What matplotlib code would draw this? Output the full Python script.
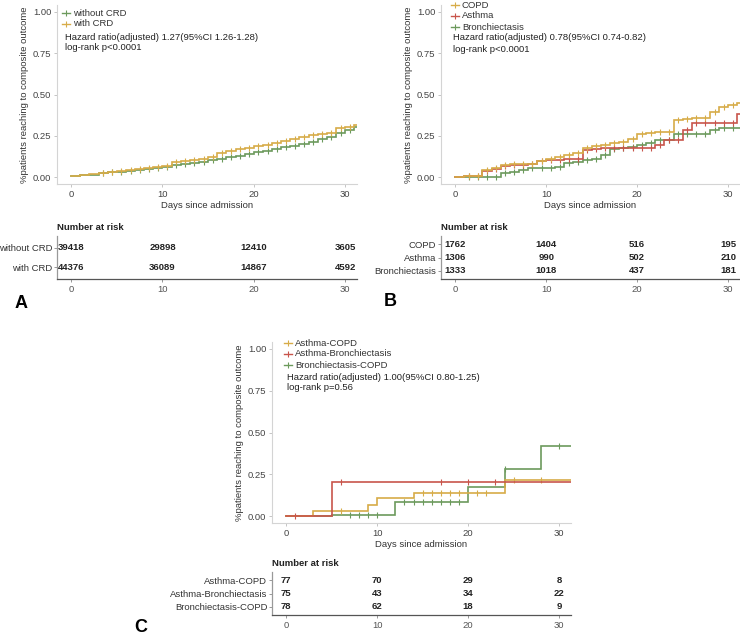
import numpy as np
import matplotlib
matplotlib.use("Agg")
import matplotlib.pyplot as plt
from matplotlib.lines import Line2D

plt.rcParams['font.family'] = ['Liberation Sans', 'DejaVu Sans']

GOLD = '#D7AC48'
RED = '#C8554B'
GREEN = '#6C9A5C'

# ---- panel A data ----
days_A = list(range(0, 32))
a_without = [0.010, 0.012, 0.017, 0.025, 0.030, 0.035, 0.040, 0.045, 0.050, 0.056, 0.063,
             0.072, 0.079, 0.086, 0.094, 0.102, 0.112, 0.121, 0.131, 0.141, 0.151, 0.161,
             0.171, 0.181, 0.192, 0.204, 0.216, 0.229, 0.245, 0.265, 0.285, 0.305]
a_with = [0.010, 0.013, 0.018, 0.027, 0.032, 0.037, 0.043, 0.050, 0.055, 0.061, 0.068,
          0.090, 0.097, 0.105, 0.113, 0.125, 0.150, 0.160, 0.170, 0.178, 0.188, 0.198,
          0.208, 0.218, 0.233, 0.243, 0.255, 0.262, 0.270, 0.300, 0.305, 0.315]
cens_A = [3.5, 4.5, 5.5, 6.5, 7.5, 8.5, 9.5, 10.5, 11.5, 12.5, 13.5, 14.5, 15.5, 16.5,
          17.5, 18.5, 19.5, 20.5, 21.5, 22.5, 23.5, 24.5, 25.5, 26.5, 27.5, 28.5, 29.5, 30.5]
groups_A = ['without CRD', 'with CRD']
risk_A = [[39418, 29898, 12410, 3605], [44376, 36089, 14867, 4592]]

# ---- panel B data ----
days_B = list(range(0, 32))
b_copd = [0, 0.010, 0.010, 0.044, 0.054, 0.074, 0.078, 0.080, 0.080, 0.100, 0.113, 0.120,
          0.135, 0.145, 0.180, 0.190, 0.195, 0.205, 0.215, 0.230, 0.260, 0.270, 0.275,
          0.275, 0.345, 0.350, 0.356, 0.360, 0.396, 0.426, 0.437, 0.447]
b_asthma = [0, 0.008, 0.008, 0.038, 0.048, 0.068, 0.074, 0.076, 0.080, 0.100, 0.105, 0.105,
            0.110, 0.110, 0.165, 0.170, 0.175, 0.175, 0.175, 0.175, 0.175, 0.175, 0.195,
            0.225, 0.225, 0.285, 0.326, 0.330, 0.330, 0.330, 0.330, 0.380]
b_bronch = [0, 0, 0, 0, 0, 0.024, 0.034, 0.044, 0.054, 0.058, 0.058, 0.064, 0.085, 0.090,
            0.105, 0.110, 0.135, 0.170, 0.175, 0.185, 0.195, 0.210, 0.225, 0.225, 0.260,
            0.260, 0.260, 0.260, 0.285, 0.296, 0.296, 0.296]
cens_B = [1.5, 2.5, 3.5, 4.5, 5.5, 6.5, 7.5, 8.5, 9.5, 10.5, 11.5, 12.5, 13.5, 14.5, 15.5,
          16.5, 17.5, 18.5, 19.5, 20.5, 21.5, 22.5, 23.5, 24.5, 25.5, 26.5, 27.5, 28.5,
          29.5, 30.5]
groups_B = ['COPD', 'Asthma', 'Bronchiectasis']
risk_B = [[1762, 1404, 516, 195], [1306, 990, 502, 210], [1333, 1018, 437, 181]]

# ---- panel C data ----
c_ac_t = [0, 3, 9, 10, 14, 24]
c_ac_v = [0, 0.030, 0.066, 0.112, 0.140, 0.216]
c_ac_cens = [6, 15, 16, 17, 18, 19, 21, 22, 25, 28]
c_ab_t = [0, 5]
c_ab_v = [0.003, 0.206]
c_ab_cens = [1, 6, 17, 20, 23]
c_bc_t = [0, 5, 12, 20, 24, 28]
c_bc_v = [0, 0.010, 0.086, 0.176, 0.280, 0.420]
c_bc_cens = [7, 8, 9, 10, 13, 14, 15, 16, 17, 18, 19, 24, 30]
groups_C = ['Asthma-COPD', 'Asthma-Bronchiectasis', 'Bronchiectasis-COPD']
risk_C = [[77, 70, 29, 8], [75, 43, 34, 22], [78, 62, 18, 9]]

risk_days = [0, 10, 20, 30]
XLIM = (-1.55, 31.3)
W, H = 740, 640

fig = plt.figure(figsize=(7.4, 6.4), dpi=100)


def rect(l, t, r, b):
    return [l / W, 1 - b / H, (r - l) / W, (b - t) / H]


def fx(x):
    return x / W


def fy(y):
    return 1 - y / H


def km(ax, t, v, cens, color):
    t = list(t) + [XLIM[1] + 1]
    v = list(v) + [v[-1]]
    ax.step(t, v, where='post', color=color, lw=1.2, solid_joinstyle='miter')
    idx = np.searchsorted(t, cens, side='right') - 1
    ax.plot(cens, np.array(v)[idx], ls='none', marker='|', ms=4, mew=0.8, color=color)


def plot_axes(box):
    ax = fig.add_axes(rect(*box))
    ax.set_xlim(*XLIM)
    ax.set_ylim(-0.04, 1.04)
    ax.set_xticks([0, 10, 20, 30])
    ax.set_yticks([0, 0.25, 0.5, 0.75, 1.0])
    ax.set_yticklabels(['0.00', '0.25', '0.50', '0.75', '1.00'])
    for s in ['top', 'right']:
        ax.spines[s].set_visible(False)
    for s in ['left', 'bottom']:
        ax.spines[s].set_color('#d4d4d4')
        ax.spines[s].set_linewidth(0.8)
    ax.tick_params(length=2.5, width=0.6, color='#bbbbbb', labelsize=6.8,
                   labelcolor='#444444', pad=1.5)
    ax.set_xlabel('Days since admission', fontsize=6.8, color='#333333', labelpad=1.5)
    ax.set_ylabel('%patients reaching to composite outcome', fontsize=6.8,
                  color='#333333', labelpad=3)
    return ax


def table_axes(box, groups, risk, title_xy):
    ax = fig.add_axes(rect(*box))
    n = len(groups)
    ax.set_xlim(*XLIM)
    ax.set_ylim(-0.6, n - 1 + 0.6)
    ax.set_xticks([0, 10, 20, 30])
    ax.set_yticks(range(n))
    ax.set_yticklabels(groups[::-1])
    for i, row in enumerate(risk):
        for d, val in zip(risk_days, row):
            ax.text(d, n - 1 - i, str(val), ha='center', va='center',
                    fontsize=6.8, fontweight='bold', color='#222222')
    for s in ['top', 'right']:
        ax.spines[s].set_visible(False)
    ax.spines['left'].set_color('#999999')
    ax.spines['bottom'].set_color('#555555')
    ax.spines['left'].set_linewidth(0.9)
    ax.spines['bottom'].set_linewidth(0.9)
    ax.tick_params(length=2.5, width=0.6, color='#888888', labelsize=6.8, pad=1.5)
    ax.tick_params(axis='y', pad=0.8)
    ax.tick_params(axis='x', labelcolor='#555555')
    ax.tick_params(axis='y', labelcolor='#333333')
    fig.text(fx(title_xy[0]), fy(title_xy[1]), 'Number at risk', fontsize=6.8,
             fontweight='bold', color='#222222', va='center', ha='left')
    return ax


def legend(x, ys, labels, colors, hr, lr, hx):
    for y, lab, c in zip(ys[:len(labels)], labels, colors):
        fig.add_artist(Line2D([fx(x - 4), fx(x + 4)], [fy(y), fy(y)], color=c, lw=1,
                              transform=fig.transFigure))
        fig.add_artist(Line2D([fx(x)], [fy(y)], color=c, marker='|', ms=5, mew=0.8,
                              transform=fig.transFigure))
        fig.text(fx(x + 7), fy(y), lab, fontsize=6.8, color='#333333', va='center')
    fig.text(fx(hx), fy(ys[-2]), hr, fontsize=6.8, color='#222222', va='center')
    fig.text(fx(hx), fy(ys[-1]), lr, fontsize=6.8, color='#222222', va='center')


# ---- A ----
axA = plot_axes((57, 5, 357, 184))
km(axA, days_A, a_without, cens_A, GREEN)
km(axA, days_A, a_with, cens_A, GOLD)
legend(66, [13, 24, 37, 48], groups_A, [GREEN, GOLD],
       'Hazard ratio(adjusted) 1.27(95%CI 1.26-1.28)', 'log-rank p<0.0001', 65)
table_axes((57, 236, 357, 279), groups_A, risk_A, (57, 227))
fig.text(fx(21), fy(303), 'A', fontsize=13, fontweight='bold', ha='center', va='center')

# ---- B ----
axB = plot_axes((441, 5, 740, 184))
km(axB, days_B, b_bronch, cens_B, GREEN)
km(axB, days_B, b_asthma, cens_B, RED)
km(axB, days_B, b_copd, cens_B, GOLD)
legend(455, [5, 16, 27, 38, 50], groups_B, [GOLD, RED, GREEN],
       'Hazard ratio(adjusted) 0.78(95%CI 0.74-0.82)', 'log-rank p<0.0001', 453)
table_axes((441, 236, 740, 279), groups_B, risk_B, (441, 227))
fig.text(fx(390), fy(302), 'B', fontsize=13, fontweight='bold', ha='center', va='center')

# ---- C ----
axC = plot_axes((272, 342, 571, 523))
km(axC, c_bc_t, c_bc_v, c_bc_cens, GREEN)
km(axC, c_ac_t, c_ac_v, c_ac_cens, GOLD)
km(axC, c_ab_t, c_ab_v, c_ab_cens, RED)
legend(288, [343, 354, 365, 377, 388], groups_C, [GOLD, RED, GREEN],
       'Hazard ratio(adjusted) 1.00(95%CI 0.80-1.25)', 'log-rank p=0.56', 287)
table_axes((272, 572, 571, 615), groups_C, risk_C, (272, 563))
fig.text(fx(141), fy(627), 'C', fontsize=13, fontweight='bold', ha='center', va='center')

fig.savefig('out.png', dpi=100, facecolor='white')
